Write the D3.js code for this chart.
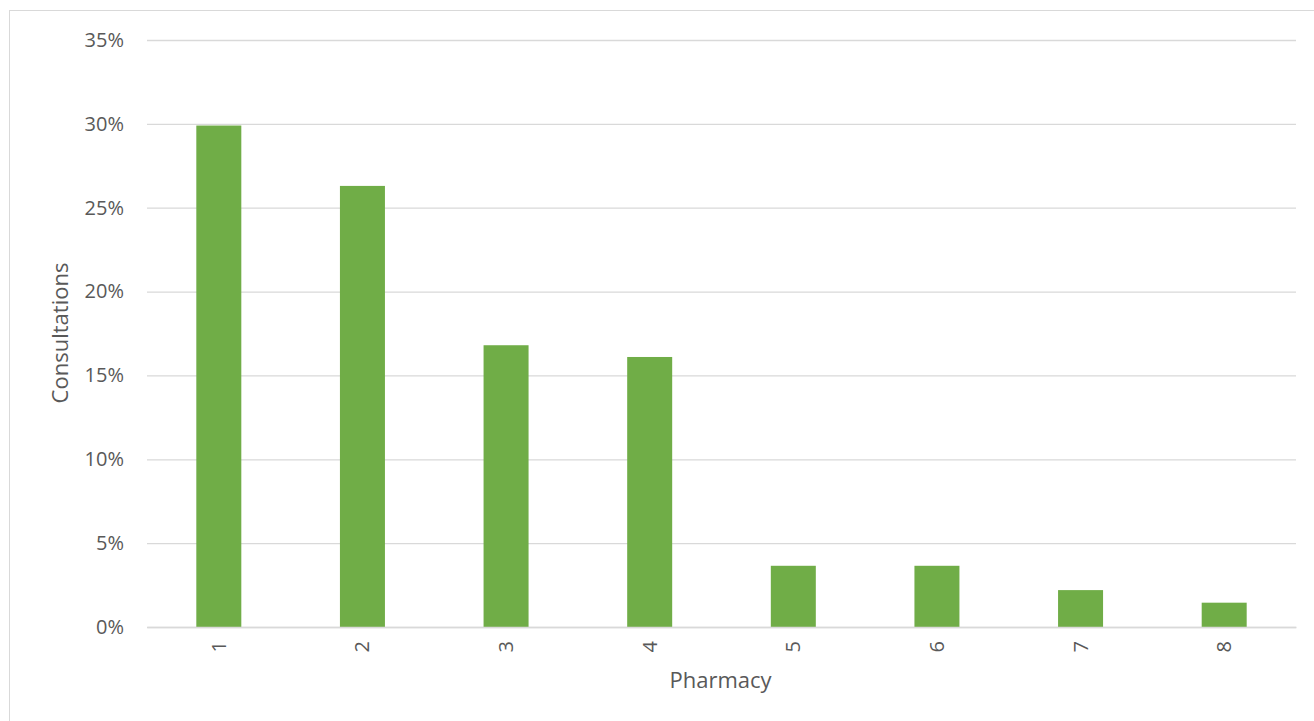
<!DOCTYPE html>
<html>
<head>
<meta charset="utf-8">
<script src="https://cdn.jsdelivr.net/npm/d3@7"></script>
<style>
html,body{margin:0;padding:0;background:#fff;}
svg{display:block;}
</style>
</head>
<body>
<svg id="chart" width="1314" height="721"></svg>
<script>
const categories = ["1","2","3","4","5","6","7","8"];
const values = [29.9, 26.3, 16.8, 16.1, 3.65, 3.65, 2.2, 1.45];
const yTicks = [0, 5, 10, 15, 20, 25, 30, 35];
const xTitle = "Pharmacy";
const yTitle = "Consultations";

const svg = d3.select("#chart");
const W = 1314, H = 721;
const m = {left:147, right:W-1296, top:40, bottom:H-627};
const font = "'Open Sans', sans-serif";
const textColor = "#595959";

// chart border
svg.append("rect").attr("x",9.5).attr("y",10.5).attr("width",W+10).attr("height",H+10)
  .attr("fill","#fff").attr("stroke","#d9d9d9").attr("stroke-width",1);

const x = d3.scaleBand().domain(categories).range([m.left, W-m.right]).padding(0);
const y = d3.scaleLinear().domain([0,35]).range([H-m.bottom, m.top]);

// gridlines
const yAxis = d3.axisLeft(y).tickValues(yTicks).tickFormat(d=>d+"%").tickSize(-(W-m.left-m.right)).tickPadding(23);
const gy = svg.append("g").attr("transform",`translate(${m.left},0)`).call(yAxis);
gy.select(".domain").remove();
gy.selectAll(".tick line").attr("stroke","#d9d9d9").attr("stroke-width",1.3);
gy.selectAll(".tick text").attr("font-family",font).attr("font-size",20).attr("fill",textColor);

// bars
const bw = 45;
svg.append("g").selectAll("rect").data(values).join("rect")
  .attr("x",(d,i)=>x(categories[i]) + x.bandwidth()/2 - bw/2)
  .attr("y",d=>y(d))
  .attr("width",bw)
  .attr("height",d=>y(0)-y(d))
  .attr("fill","#70ad47");

// x axis
const xAxis = d3.axisBottom(x).tickSize(0).tickPadding(0);
const gx = svg.append("g").attr("transform",`translate(0,${H-m.bottom})`).call(xAxis);
gx.select(".domain").attr("stroke","#d9d9d9").attr("stroke-width",1.3);
gx.selectAll(".tick text")
  .attr("font-family",font).attr("font-size",20).attr("fill",textColor)
  .attr("transform","rotate(-90)")
  .attr("text-anchor","end")
  .attr("x",-14).attr("y",0).attr("dy","0.35em");

// axis titles
svg.append("text").attr("x",(m.left + W-m.right)/2 - 1).attr("y",688)
  .attr("text-anchor","middle").attr("font-family",font).attr("font-size",22)
  .attr("fill",textColor).text(xTitle);
svg.append("text").attr("transform","translate(68,333) rotate(-90)")
  .attr("text-anchor","middle").attr("font-family",font).attr("font-size",22)
  .attr("fill",textColor).text(yTitle);
</script>
</body>
</html>
